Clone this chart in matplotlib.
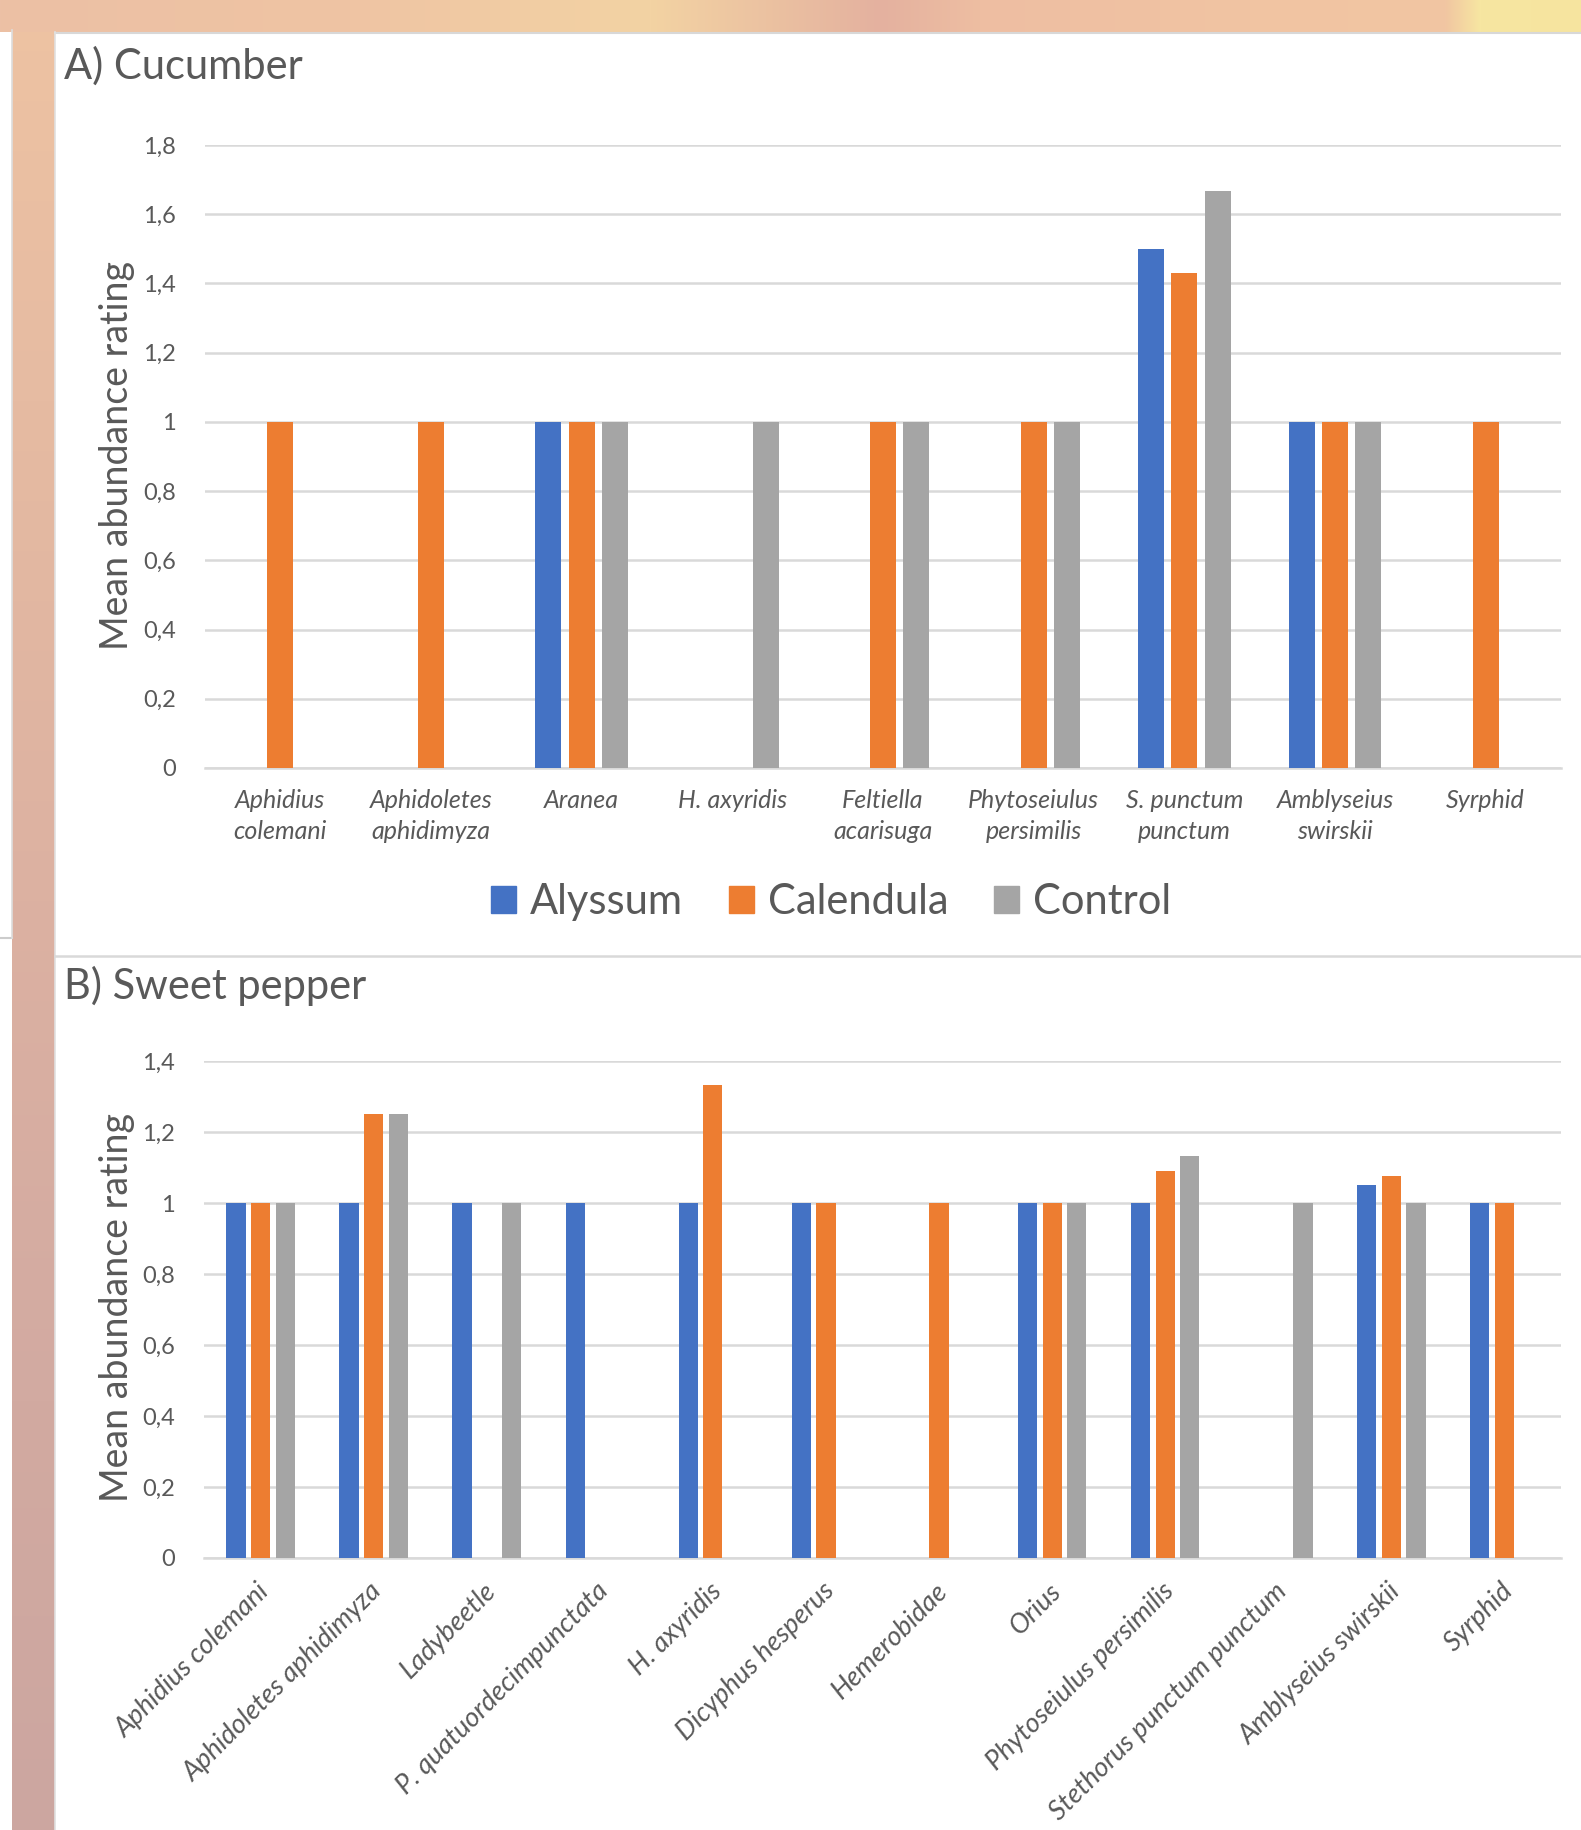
import numpy as np
import matplotlib
matplotlib.use("Agg")
import matplotlib.pyplot as plt
import matplotlib.patches as mpatches
import matplotlib.transforms as mtrans
from matplotlib.colors import to_rgb

plt.rcParams['font.family'] = ['Lato', 'DejaVu Sans']

# ---------------- data ----------------
series_names = ["Alyssum", "Calendula", "Control"]
series_colors = ["#4472C4", "#ED7D31", "#A5A5A5"]

cuc_categories = ["Aphidius\ncolemani", "Aphidoletes\naphidimyza", "Aranea", "H. axyridis",
                  "Feltiella\nacarisuga", "Phytoseiulus\npersimilis", "S. punctum\npunctum",
                  "Amblyseius\nswirskii", "Syrphid"]
cuc_alyssum = [0, 0, 1, 0, 0, 0, 1.5, 1, 0]
cuc_calendula = [1, 1, 1, 0, 1, 1, 1.43, 1, 1]
cuc_control = [0, 0, 1, 1, 1, 1, 1.667, 1, 0]
cuc_yticks = [0, 0.2, 0.4, 0.6, 0.8, 1.0, 1.2, 1.4, 1.6, 1.8]
cuc_yticklabels = ["0", "0,2", "0,4", "0,6", "0,8", "1", "1,2", "1,4", "1,6", "1,8"]

pep_categories = ["Aphidius colemani", "Aphidoletes aphidimyza", "Ladybeetle",
                  "P. quatuordecimpunctata", "H. axyridis", "Dicyphus hesperus",
                  "Hemerobidae", "Orius", "Phytoseiulus persimilis",
                  "Stethorus punctum punctum", "Amblyseius swirskii", "Syrphid"]
pep_alyssum = [1, 1, 1, 1, 1, 1, 0, 1, 1, 0, 1.05, 1]
pep_calendula = [1, 1.25, 0, 0, 1.333, 1, 1, 1, 1.09, 0, 1.077, 1]
pep_control = [1, 1.25, 1, 0, 0, 0, 0, 1, 1.133, 1, 1, 0]
pep_yticks = [0, 0.2, 0.4, 0.6, 0.8, 1.0, 1.2, 1.4]
pep_yticklabels = ["0", "0,2", "0,4", "0,6", "0,8", "1", "1,2", "1,4"]

TXT = "#595959"
GRID = "#D9D9D9"

W, H = 1581, 1830
fig = plt.figure(figsize=(W / 100, H / 100), dpi=100)

# ---------------- background (screenshot frame) ----------------
bg = fig.add_axes([0, 0, 1, 1], zorder=-10)
bg.set_xlim(0, W)
bg.set_ylim(H, 0)
bg.axis("off")

img = np.ones((H, W, 3))
xs = np.arange(W)
top_stops_x = [0, 350, 650, 880, 980, 1250, 1445, 1480, 1581]
top_stops_c = ["#ecc0a5", "#efc4a3", "#f3d3a3", "#e4b19f", "#eebea2", "#f1c4a2", "#f1c6a2",
               "#f7e6a1", "#f6e49f"]
top_rgb = np.array([to_rgb(c) for c in top_stops_c])
top_row = np.stack([np.interp(xs, top_stops_x, top_rgb[:, k]) for k in range(3)], axis=1)
img[:32, :, :] = top_row[None, :, :]
ys = np.arange(H)
left_stops_y = [0, 400, 900, 1400, 1830]
left_stops_c = ["#eec3a3", "#e6bba2", "#dcb1a1", "#d2aaa1", "#cca6a0"]
left_rgb = np.array([to_rgb(c) for c in left_stops_c])
left_col = np.stack([np.interp(ys, left_stops_y, left_rgb[:, k]) for k in range(3)], axis=1)
img[32:, 12:55, :] = left_col[32:, None, :]
img[:32, :12, :] = top_row[None, :12, :]
bg.imshow(img, extent=(0, W, H, 0), aspect="auto", interpolation="bilinear")

bg.plot([0, 12], [938, 938], color="#cccccc", lw=1.5)
bg.plot([12, 12], [30, 938], color="#dddddd", lw=1.2)
bg.plot([55, W], [32.5, 32.5], color="#d8d8d8", lw=1.5)
bg.plot([55, 55], [32, H], color="#e0e0e0", lw=1.2)
bg.plot([55, W], [955.5, 955.5], color="#d9d9d9", lw=1.8)


def fig_rect(left_px, top_px, right_px, bottom_px):
    return [left_px / W, 1 - bottom_px / H, (right_px - left_px) / W, (bottom_px - top_px) / H]


def draw_bars(ax, n, data, width):
    x = np.arange(n)
    offsets = [-1, 0, 1]
    for vals, col, off, name in zip(data, series_colors, offsets, series_names):
        ax.bar(x + off * width * 1.28, vals, width=width, color=col, linewidth=0,
               label=name, zorder=3)
    return x


def style_axes(ax, yticks, yticklabels, ymax, n):
    ax.set_xlim(-0.5, n - 0.5)
    ax.set_ylim(0, ymax)
    ax.set_yticks(yticks)
    ax.set_yticklabels(yticklabels, fontsize=17, color=TXT)
    ax.tick_params(axis="y", length=0, pad=21)
    ax.tick_params(axis="x", length=0)
    for s in ["top", "right", "left"]:
        ax.spines[s].set_visible(False)
    ax.spines["bottom"].set_color(GRID)
    ax.spines["bottom"].set_linewidth(1.8)
    ax.grid(axis="y", color=GRID, linewidth=1.8, zorder=0)
    ax.set_axisbelow(True)
    ax.set_facecolor("none")


# ---------------- A) Cucumber ----------------
axA = fig.add_axes(fig_rect(205, 145, 1561, 768))
xA = draw_bars(axA, len(cuc_categories), [cuc_alyssum, cuc_calendula, cuc_control], 0.173)
style_axes(axA, cuc_yticks, cuc_yticklabels, 1.8, len(cuc_categories))
axA.set_xticks(xA)
axA.set_xticklabels(cuc_categories, fontsize=18, color=TXT, style="italic", linespacing=1.42)
axA.tick_params(axis="x", pad=15)

fig.text(64 / W, 1 - 66 / H, "A) Cucumber", fontsize=30, color=TXT, ha="left", va="center")
fig.text(117 / W, 1 - 456 / H, "Mean abundance rating", fontsize=27, color=TXT,
         rotation=90, ha="center", va="center")

handles = [mpatches.Patch(color=c) for c in series_colors]
fig.legend(handles, series_names, loc="center", bbox_to_anchor=(831 / W, 1 - 902 / H),
           ncol=3, frameon=False, fontsize=30, handlelength=0.6, handleheight=0.6,
           handletextpad=0.33, columnspacing=1.1, labelcolor=TXT)

# ---------------- B) Sweet pepper ----------------
axB = fig.add_axes(fig_rect(204, 1061, 1561, 1558))
xB = draw_bars(axB, len(pep_categories), [pep_alyssum, pep_calendula, pep_control], 0.17)
style_axes(axB, pep_yticks, pep_yticklabels, 1.4, len(pep_categories))
axB.set_xticks(xB)
axB.set_xticklabels(pep_categories, fontsize=19.5, color=TXT, style="italic",
                    rotation=45, ha="right", va="center", rotation_mode="anchor")
axB.tick_params(axis="x", pad=21)
offset = mtrans.ScaledTranslation(5 / 100, 0, fig.dpi_scale_trans)
for lbl in axB.get_xticklabels():
    lbl.set_transform(lbl.get_transform() + offset)

fig.text(64 / W, 1 - 986 / H, "B) Sweet pepper", fontsize=30, color=TXT, ha="left", va="center")
fig.text(117 / W, 1 - 1307 / H, "Mean abundance rating", fontsize=27, color=TXT,
         rotation=90, ha="center", va="center")

fig.savefig("out.png", dpi=100)
